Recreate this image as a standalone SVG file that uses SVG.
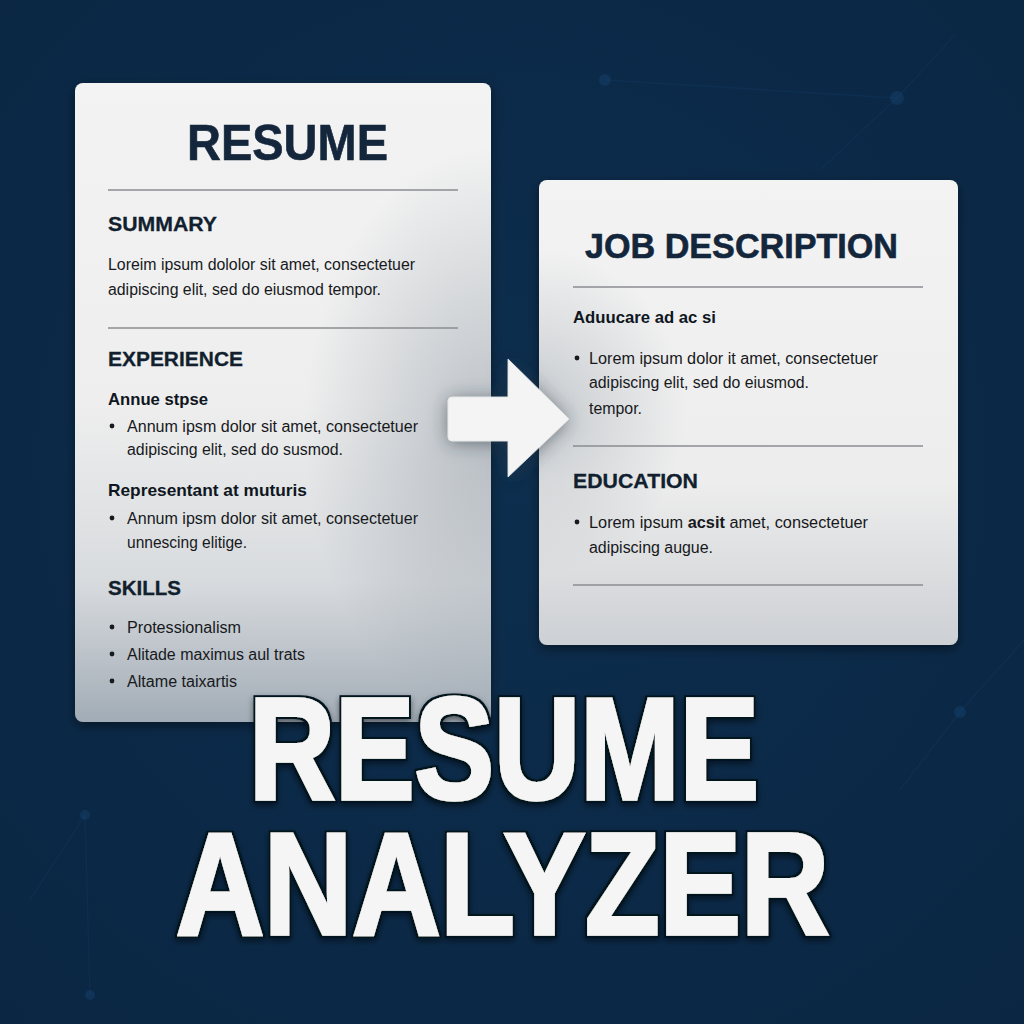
<svg xmlns="http://www.w3.org/2000/svg" width="1024" height="1024" viewBox="0 0 1024 1024">
  <defs>
    <style>
      .f { font-family: "Liberation Sans", Arial, "DejaVu Sans", sans-serif; }
      .ttl { font-weight: bold; fill: #13263b; stroke: #13263b; stroke-width: 0.6; }
      .hd { font-weight: bold; font-size: 21px; fill: #111f2e; stroke: #111f2e; stroke-width: 0.3; }
      .sub { font-weight: bold; font-size: 17px; fill: #0f161e; }
      .bd { font-size: 16px; fill: #17191c; }
      .rule { stroke: #8a8d91; stroke-width: 1.3; }
      .dot { fill: #17191c; }
      .big { font-weight: bold; font-size: 144px; fill: #f5f5f5; stroke: #f5f5f5; stroke-width: 3.5; stroke-linejoin: miter; }
      .net { stroke: #1a4570; stroke-width: 1.5; opacity: 0.22; fill: none; }
      .node { fill: #1a4a78; opacity: 0.35; }
    </style>
    <radialGradient id="bg" cx="0.5" cy="0.45" r="0.75">
      <stop offset="0" stop-color="#0d2e4e"/>
      <stop offset="1" stop-color="#0a2643"/>
    </radialGradient>
    <linearGradient id="cardR" x1="0" y1="0" x2="0" y2="1">
      <stop offset="0" stop-color="#f3f3f3"/>
      <stop offset="0.5" stop-color="#eeeeee"/>
      <stop offset="0.78" stop-color="#d8dbde"/>
      <stop offset="1" stop-color="#a2acb6"/>
    </linearGradient>
    <linearGradient id="cardJ" x1="0" y1="0" x2="0" y2="1">
      <stop offset="0" stop-color="#f3f3f3"/>
      <stop offset="0.65" stop-color="#ededed"/>
      <stop offset="1" stop-color="#cdd0d4"/>
    </linearGradient>
    <radialGradient id="edgeR" cx="1" cy="0.55" r="0.45">
      <stop offset="0" stop-color="#7d8995" stop-opacity="0.45"/>
      <stop offset="1" stop-color="#7d8995" stop-opacity="0"/>
    </radialGradient>
    <radialGradient id="edgeJ" cx="0" cy="0.5" r="0.35">
      <stop offset="0" stop-color="#7d8995" stop-opacity="0.35"/>
      <stop offset="1" stop-color="#7d8995" stop-opacity="0"/>
    </radialGradient>
    <filter id="shadow" x="-20%" y="-20%" width="140%" height="140%">
      <feDropShadow dx="0" dy="4" stdDeviation="6" flood-color="#000000" flood-opacity="0.45"/>
    </filter>
    <filter id="ashadow" x="-50%" y="-50%" width="200%" height="200%">
      <feDropShadow dx="0" dy="2" stdDeviation="9" flood-color="#2a3440" flood-opacity="0.55"/>
    </filter>
    <filter id="outline" x="-10%" y="-10%" width="120%" height="130%">
      <feMorphology in="SourceAlpha" operator="dilate" radius="2" result="thick"/>
      <feFlood flood-color="#06131f" result="dark"/>
      <feComposite in="dark" in2="thick" operator="in" result="edge"/>
      <feGaussianBlur in="thick" stdDeviation="3" result="blur"/>
      <feOffset in="blur" dx="0" dy="3" result="sh"/>
      <feComponentTransfer in="sh" result="shd">
        <feFuncA type="linear" slope="0.5"/>
      </feComponentTransfer>
      <feMerge>
        <feMergeNode in="shd"/>
        <feMergeNode in="edge"/>
        <feMergeNode in="SourceGraphic"/>
      </feMerge>
    </filter>
  </defs>

  <g id="background">
    <rect x="0" y="0" width="1024" height="1024" fill="url(#bg)"/>
    <path class="net" d="M605,80 L897,98 L955,35 M897,98 L820,170 M960,712 L1024,640 M960,712 L900,790 M85,815 L30,900 M90,995 L85,815"/>
    <circle class="node" cx="605" cy="80" r="6"/>
    <circle class="node" cx="897" cy="98" r="7"/>
    <circle class="node" cx="960" cy="712" r="6"/>
    <circle class="node" cx="85" cy="815" r="5"/>
    <circle class="node" cx="90" cy="995" r="5"/>
  </g>

  <g id="resume-card">
    <rect x="75" y="83" width="416" height="639" rx="8" fill="url(#cardR)" filter="url(#shadow)"/>
    <rect x="75" y="83" width="416" height="639" rx="8" fill="url(#edgeR)"/>
    <text class="f ttl" x="187" y="160" font-size="50" textLength="201" lengthAdjust="spacingAndGlyphs">RESUME</text>
    <line class="rule" x1="108" y1="190" x2="458" y2="190"/>
    <text class="f hd" x="108" y="231" textLength="109" lengthAdjust="spacingAndGlyphs">SUMMARY</text>
    <text class="f bd" x="108" y="270" textLength="307" lengthAdjust="spacingAndGlyphs">Loreim ipsum dololor sit amet, consectetuer</text>
    <text class="f bd" x="108" y="295" textLength="273" lengthAdjust="spacingAndGlyphs">adipiscing elit, sed do eiusmod tempor.</text>
    <line class="rule" x1="108" y1="328" x2="458" y2="328"/>
    <text class="f hd" x="108" y="366" textLength="135" lengthAdjust="spacingAndGlyphs">EXPERIENCE</text>
    <text class="f sub" x="108" y="405" textLength="100" lengthAdjust="spacingAndGlyphs">Annue stpse</text>
    <circle class="dot" cx="112" cy="426" r="2.4"/>
    <text class="f bd" x="127" y="432" textLength="291" lengthAdjust="spacingAndGlyphs">Annum ipsm dolor sit amet, consectetuer</text>
    <text class="f bd" x="127" y="455" textLength="216" lengthAdjust="spacingAndGlyphs">adipiscing elit, sed do susmod.</text>
    <text class="f sub" x="108" y="496" textLength="199" lengthAdjust="spacingAndGlyphs">Representant at muturis</text>
    <circle class="dot" cx="112" cy="518" r="2.4"/>
    <text class="f bd" x="127" y="524" textLength="291" lengthAdjust="spacingAndGlyphs">Annum ipsm dolor sit amet, consectetuer</text>
    <text class="f bd" x="127" y="548" textLength="120" lengthAdjust="spacingAndGlyphs">unnescing elitige.</text>
    <text class="f hd" x="108" y="595" textLength="73" lengthAdjust="spacingAndGlyphs">SKILLS</text>
    <circle class="dot" cx="112" cy="627" r="2.4"/>
    <text class="f bd" x="127" y="633" textLength="114" lengthAdjust="spacingAndGlyphs">Protessionalism</text>
    <circle class="dot" cx="112" cy="654" r="2.4"/>
    <text class="f bd" x="127" y="660" textLength="178" lengthAdjust="spacingAndGlyphs">Alitade maximus aul trats</text>
    <circle class="dot" cx="112" cy="681" r="2.4"/>
    <text class="f bd" x="127" y="687" textLength="110" lengthAdjust="spacingAndGlyphs">Altame taixartis</text>
  </g>

  <g id="job-card">
    <rect x="539" y="180" width="419" height="465" rx="8" fill="url(#cardJ)" filter="url(#shadow)"/>
    <rect x="539" y="180" width="419" height="465" rx="8" fill="url(#edgeJ)"/>
    <text class="f ttl" x="585" y="258" font-size="35" textLength="313" lengthAdjust="spacingAndGlyphs">JOB DESCRIPTION</text>
    <line class="rule" x1="573" y1="287" x2="923" y2="287"/>
    <text class="f sub" x="573" y="323" textLength="143" lengthAdjust="spacingAndGlyphs"><tspan font-weight="600">Aduucare</tspan> ad ac si</text>
    <circle class="dot" cx="577" cy="358" r="2.4"/>
    <text class="f bd" x="589" y="364" textLength="289" lengthAdjust="spacingAndGlyphs">Lorem ipsum dolor it amet, consectetuer</text>
    <text class="f bd" x="589" y="388" textLength="220" lengthAdjust="spacingAndGlyphs">adipiscing elit, sed do eiusmod.</text>
    <text class="f bd" x="589" y="414" textLength="53" lengthAdjust="spacingAndGlyphs">tempor.</text>
    <line class="rule" x1="573" y1="446" x2="923" y2="446"/>
    <text class="f hd" x="573" y="488" textLength="125" lengthAdjust="spacingAndGlyphs">EDUCATION</text>
    <circle class="dot" cx="577" cy="522" r="2.4"/>
    <text class="f bd" x="589" y="528" textLength="279" lengthAdjust="spacingAndGlyphs">Lorem ipsum <tspan font-weight="bold">acsit</tspan> amet, consectetuer</text>
    <text class="f bd" x="589" y="553" textLength="124" lengthAdjust="spacingAndGlyphs">adipiscing augue.</text>
    <line class="rule" x1="573" y1="585" x2="923" y2="585"/>
  </g>

  <g id="connectors">
    <path d="M452,397 L508,397 L508,359 L569,419 L508,477 L508,441 L452,441 Q448,441 448,437 L448,401 Q448,397 452,397 Z" fill="#f4f4f4" stroke="#e2e4e6" stroke-width="0.8" stroke-linejoin="round" filter="url(#ashadow)"/>
  </g>

  <g id="title" filter="url(#outline)">
    <text class="f big" x="249" y="799" textLength="510" lengthAdjust="spacingAndGlyphs">RESUME</text>
    <text class="f big" x="176" y="934" textLength="653" lengthAdjust="spacingAndGlyphs">ANALYZER</text>
  </g>
</svg>
